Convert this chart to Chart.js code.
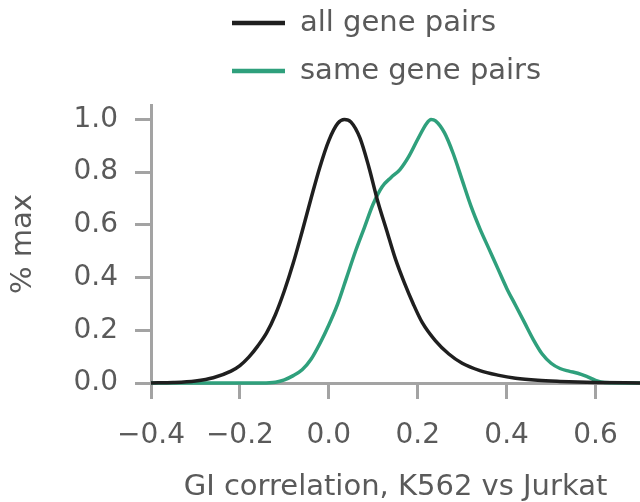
<!DOCTYPE html>
<html>
<head>
<meta charset="utf-8">
<script src="https://cdn.jsdelivr.net/npm/chart.js@4/dist/chart.umd.min.js"></script>
<style>
  html, body { margin: 0; padding: 0; background: #ffffff; }
  canvas { display: block; }
</style>
</head>
<body>
<canvas id="chart" width="640" height="502"></canvas>
<script>
// Density curves (scaled to their own maximum) of GI correlation between cell lines
const seriesLabels = ['all gene pairs', 'same gene pairs'];

const allX = [-0.40, -0.35, -0.30, -0.26, -0.22, -0.20, -0.18, -0.16, -0.14, -0.12, -0.10, -0.08, -0.06, -0.04, -0.02, 0.00, 0.02, 0.035, 0.05, 0.07, 0.09, 0.11, 0.13, 0.15, 0.17, 0.19, 0.21, 0.24, 0.27, 0.30, 0.34, 0.38, 0.42, 0.47, 0.52, 0.60, 0.70];
const allY = [0, 0.002, 0.008, 0.02, 0.045, 0.066, 0.098, 0.14, 0.19, 0.26, 0.35, 0.455, 0.575, 0.70, 0.82, 0.92, 0.985, 1.0, 0.99, 0.93, 0.82, 0.69, 0.58, 0.47, 0.38, 0.30, 0.23, 0.16, 0.11, 0.075, 0.047, 0.03, 0.018, 0.01, 0.006, 0.002, 0];

const sameX = [-0.40, -0.15, -0.12, -0.10, -0.08, -0.06, -0.04, -0.02, 0.00, 0.02, 0.04, 0.06, 0.08, 0.10, 0.12, 0.14, 0.16, 0.18, 0.20, 0.22, 0.23, 0.24, 0.26, 0.28, 0.30, 0.32, 0.34, 0.36, 0.38, 0.40, 0.42, 0.44, 0.46, 0.48, 0.50, 0.52, 0.54, 0.56, 0.58, 0.60, 0.62, 0.70];
const sameY = [0, 0, 0.003, 0.012, 0.028, 0.05, 0.09, 0.15, 0.22, 0.30, 0.40, 0.50, 0.59, 0.68, 0.745, 0.78, 0.81, 0.86, 0.925, 0.985, 1.0, 0.995, 0.95, 0.87, 0.77, 0.67, 0.585, 0.51, 0.435, 0.36, 0.295, 0.23, 0.165, 0.11, 0.075, 0.055, 0.045, 0.037, 0.025, 0.01, 0.002, 0];

const xTickValues = [-0.4, -0.2, 0.0, 0.2, 0.4, 0.6];
const yTickValues = [0.0, 0.2, 0.4, 0.6, 0.8, 1.0];

const xTitle = 'GI correlation, K562 vs Jurkat';
const yTitle = '% max';

const AXIS_GREY = '#a3a3a3';
const TEXT_GREY = '#5a5a5a';
const FONT = 'DejaVu Sans';

function toPoints(xs, ys) {
  return xs.map((x, i) => ({ x: x, y: ys[i] }));
}

function fmt(v) {
  if (Math.abs(v) < 1e-9) v = 0;
  const s = v.toFixed(1);
  return s.replace('-', '\u2212');
}

// Two-row legend drawn above the plot, left-aligned swatches
const stackedLegend = {
  id: 'stackedLegend',
  afterDraw(chart) {
    const ctx = chart.ctx;
    const rows = [23, 71];
    ctx.save();
    chart.data.datasets.forEach((ds, i) => {
      const y = rows[i];
      ctx.strokeStyle = ds.borderColor;
      ctx.lineWidth = 4.5;
      ctx.lineCap = 'butt';
      ctx.beginPath();
      ctx.moveTo(232, y);
      ctx.lineTo(285, y);
      ctx.stroke();
      ctx.fillStyle = TEXT_GREY;
      ctx.font = '29px "' + FONT + '"';
      ctx.textAlign = 'left';
      ctx.textBaseline = 'middle';
      ctx.fillText(ds.label, 300, y);
    });
    ctx.restore();
  }
};

new Chart(document.getElementById('chart'), {
  type: 'line',
  data: {
    datasets: [
      {
        label: seriesLabels[0],
        data: toPoints(allX, allY),
        borderColor: '#1f1f1f',
        borderWidth: 3.5,
        pointRadius: 0,
        cubicInterpolationMode: 'monotone',
        fill: false,
        clip: false
      },
      {
        label: seriesLabels[1],
        data: toPoints(sameX, sameY),
        borderColor: '#2fa07c',
        borderWidth: 3.5,
        pointRadius: 0,
        cubicInterpolationMode: 'monotone',
        fill: false,
        clip: false
      }
    ]
  },
  options: {
    responsive: false,
    devicePixelRatio: 1,
    animation: false,
    layout: { padding: { top: 105, left: 0, right: 0, bottom: 0 } },
    plugins: {
      legend: { display: false },
      tooltip: { enabled: false }
    },
    scales: {
      x: {
        type: 'linear',
        min: -0.4,
        max: 0.7,
        afterBuildTicks: (scale) => { scale.ticks = xTickValues.map(v => ({ value: v })); },
        afterFit: (scale) => { scale.height = 119; },
        ticks: {
          callback: (v) => fmt(v),
          color: TEXT_GREY,
          font: { family: FONT, size: 28 },
          padding: 20,
          maxRotation: 0,
          autoSkip: false
        },
        grid: {
          drawOnChartArea: false,
          drawTicks: true,
          tickLength: 16,
          color: AXIS_GREY,
          lineWidth: 3
        },
        border: { color: AXIS_GREY, width: 3 },
        title: {
          display: true,
          text: xTitle,
          color: TEXT_GREY,
          font: { family: FONT, size: 29, lineHeight: 1 },
          padding: 0
        }
      },
      y: {
        type: 'linear',
        min: 0,
        max: 1.055,
        afterBuildTicks: (scale) => { scale.ticks = yTickValues.map(v => ({ value: v })); },
        afterFit: (scale) => { scale.width = 151; },
        ticks: {
          callback: (v) => fmt(v),
          color: TEXT_GREY,
          font: { family: FONT, size: 28 },
          padding: 17
        },
        grid: {
          drawOnChartArea: false,
          drawTicks: true,
          tickLength: 16,
          color: AXIS_GREY,
          lineWidth: 3
        },
        border: { color: AXIS_GREY, width: 3 },
        title: {
          display: true,
          text: yTitle,
          color: TEXT_GREY,
          font: { family: FONT, size: 29 },
          padding: { top: 6, bottom: 0 }
        }
      }
    }
  },
  plugins: [stackedLegend]
});
</script>
</body>
</html>
